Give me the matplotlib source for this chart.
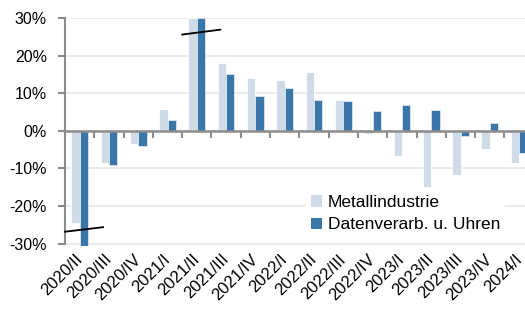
import matplotlib
matplotlib.use("Agg")
import matplotlib.pyplot as plt
import matplotlib.ticker as ticker
import matplotlib.transforms as mtransforms
from matplotlib.patches import Patch
import numpy as np

# quarterly change, in percent (bars beyond +/-30 are cut off in the chart)
quarters = ["2020/II", "2020/III", "2020/IV", "2021/I", "2021/II", "2021/III",
            "2021/IV", "2022/I", "2022/II", "2022/III", "2022/IV", "2023/I",
            "2023/II", "2023/III", "2023/IV", "2024/I"]
metall = [-24.5, -8.5, -3.4, 5.8, 30.0, 18.1, 14.0, 13.5, 15.6, 8.2,
          -0.9, -6.7, -14.9, -11.8, -4.9, -8.5]
daten = [-30.6, -9.2, -4.1, 2.9, 30.0, 15.2, 9.3, 11.5, 8.2, 7.9,
         5.3, 7.0, 5.5, -1.3, 2.0, -5.9]
series_names = ["Metallindustrie", "Datenverarb. u. Uhren"]

light = "#cfdbe7"
dark = "#3a76a8"
gray = "#8c8c8c"

plt.rcParams['font.family'] = ['Liberation Sans', 'DejaVu Sans']

fig = plt.figure(figsize=(5.25, 3.2), dpi=100)
ax = fig.add_axes([65/525, 1-246/320, 1-65/525, (246-18)/320])

x = np.arange(len(quarters))
w = 0.285
ax.bar(x - w/2, metall, w, color=light, edgecolor="white", linewidth=0.6, zorder=2)
ax.bar(x + w/2, daten, w, color=dark, edgecolor="#dde7f0", linewidth=0.6, zorder=2)

ax.set_xlim(-0.5, len(quarters) - 0.8)
ax.set_ylim(-30.6, 30)

# grid
ax.yaxis.set_major_locator(ticker.MultipleLocator(10))
ax.yaxis.set_major_formatter(ticker.FuncFormatter(lambda v, p: "%d%%" % round(v)))
ax.grid(axis="y", color="#e8e8e8", linewidth=1.2, zorder=0)
ax.set_axisbelow(True)

for s in ["top", "right"]:
    ax.spines[s].set_visible(False)
ax.spines["left"].set_color(gray)
ax.spines["left"].set_linewidth(1.5)
ax.spines["left"].set_bounds(-30, 30)

# zero line with category boundary ticks
ax.spines["bottom"].set_position(("data", 0))
ax.spines["bottom"].set_color(gray)
ax.spines["bottom"].set_linewidth(1.8)
ax.spines["bottom"].set_zorder(3)
ax.xaxis.set_major_locator(ticker.FixedLocator(x[1:] - 0.5))
ax.xaxis.set_major_formatter(ticker.NullFormatter())
ax.tick_params(axis="x", length=5, width=1.5, color=gray, direction="out")
ax.tick_params(axis="y", length=5, width=1.5, color=gray, labelsize=11.5, pad=8)

# category labels at the bottom
sec = ax.secondary_xaxis(0)
sec.spines["bottom"].set_visible(False)
sec.set_xticks(x)
sec.set_xticklabels(quarters, rotation=45, ha="right", rotation_mode="anchor",
                    fontsize=12)
sec.tick_params(length=0, pad=4)
shift = mtransforms.ScaledTranslation(-5/100, 0, fig.dpi_scale_trans)
for lab in sec.get_xticklabels():
    lab.set_transform(lab.get_transform() + shift)

# axis break marks
ax.plot([-0.5, 0.8], [-26.8, -25.6], color="black", linewidth=1.3, zorder=4, clip_on=False)
ax.plot([3.5, 4.8], [25.6, 26.9], color="black", linewidth=1.3, zorder=4)

handles = [Patch(facecolor=light, edgecolor="none"), Patch(facecolor=dark, edgecolor="none")]
leg = ax.legend(handles, series_names, loc="center left", bbox_to_anchor=(0.566, 0.332),
                bbox_transform=fig.transFigure, frameon=True, framealpha=1,
                edgecolor="none", facecolor="white", fontsize=12.5,
                handlelength=0.65, handleheight=0.65, handletextpad=0.3,
                labelspacing=0.42, borderpad=0.3, fancybox=False)

fig.savefig("out.png", dpi=100)
